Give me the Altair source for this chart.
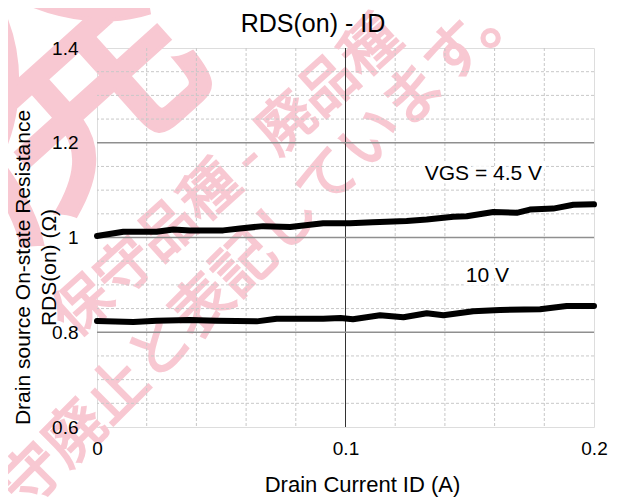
import altair as alt
import pandas as pd

# ---- data ----
x_45 = [0, 0.0106, 0.024, 0.0307, 0.0374, 0.0508, 0.0575, 0.0669, 0.0777, 0.091, 0.1018,
        0.111, 0.1246, 0.1327, 0.1434, 0.1488, 0.1595, 0.1689, 0.1742, 0.1836, 0.1917, 0.2]
y_45 = [1.003, 1.012, 1.012, 1.017, 1.015, 1.015, 1.019, 1.024, 1.022, 1.030, 1.030,
        1.032, 1.035, 1.038, 1.044, 1.045, 1.054, 1.052, 1.059, 1.061, 1.069, 1.070]
x_10 = [0, 0.0146, 0.024, 0.0374, 0.0481, 0.0643, 0.0723, 0.091, 0.098, 0.103,
        0.1139, 0.1233, 0.1327, 0.1394, 0.1514, 0.1622, 0.1783, 0.189, 0.2]
y_10 = [0.824, 0.8216, 0.8244, 0.8259, 0.8244, 0.823, 0.8286, 0.8286, 0.830, 0.8273,
        0.8357, 0.8315, 0.840, 0.8357, 0.8442, 0.847, 0.8484, 0.8554, 0.8554]

label_text = ["VGS = 4.5 V", "10 V"]
label_x = [0.1555, 0.1571]
label_y = [1.134, 0.919]

x_ticks = [0, 0.1, 0.2]
y_ticks = [0.6, 0.8, 1.0, 1.2, 1.4]
x_minor = [0.02, 0.04, 0.06, 0.08, 0.12, 0.14, 0.16, 0.18]
y_minor = [0.65, 0.7, 0.75, 0.85, 0.9, 0.95, 1.05, 1.1, 1.15, 1.25, 1.3, 1.35]
x_major = [0.1]
y_major = [0.8, 1.0, 1.2]

title_text = ["RDS(on) - ID"]
wm_lines = ["保守品種 - 廃品種", "保守廃止と表記しています。", "廃"]

curves = pd.concat([
    pd.DataFrame({"ID": x_45, "RDS": y_45, "VGS": "4.5 V"}),
    pd.DataFrame({"ID": x_10, "RDS": y_10, "VGS": "10 V"}),
])
labels = pd.DataFrame({"ID": label_x, "RDS": label_y, "t": label_text})

FONT = "Liberation Sans"
xscale = alt.Scale(domain=[0, 0.2], nice=False, zero=False)
yscale = alt.Scale(domain=[0.6, 1.4], nice=False, zero=False)

xaxis = alt.Axis(values=x_ticks, format="~g", grid=False, ticks=False, tickSize=0, domain=False,
                 labelFontSize=19, labelFont=FONT, labelColor="black", labelPadding=12,
                 labelFlush=False, labelOverlap=False,
                 title="Drain Current ID (A)", titleFontSize=22, titleFont=FONT,
                 titleFontWeight="normal", titleColor="black", titleX=265, titleY=64,
                 titleBaseline="alphabetic", titleAlign="center", zindex=1)
yaxis = alt.Axis(values=y_ticks, format="~g", grid=False, ticks=False, tickSize=0, domain=False,
                 labelFontSize=19, labelFont=FONT, labelColor="black", labelPadding=19,
                 labelFlush=False, labelOverlap=False,
                 title=["Drain source On-state Resistance", "RDS(on) (Ω)"],
                 titleFontSize=21, titleFont=FONT, titleFontWeight="normal", titleColor="black",
                 titleAngle=270, titleX=-68, titleY=219, titleBaseline="alphabetic",
                 titleAlign="center", titleLineHeight=26, zindex=1)

X = lambda f: alt.X(f, type="quantitative", scale=xscale, axis=xaxis)
Y = lambda f: alt.Y(f, type="quantitative", scale=yscale, axis=yaxis)

one = pd.DataFrame({"k": [0]})

wm_color = "#f8c8d2"
WMF = "Noto Sans CJK JP"
wm1 = alt.Chart(one).mark_text(font=WMF, fontSize=57, angle=318, color=wm_color,
                               stroke=wm_color, strokeWidth=2,
                               align="center", baseline="middle").encode(
    x=alt.value(131), y=alt.value(130), text=alt.value(wm_lines[0]))
wm2 = alt.Chart(one).mark_text(font=WMF, fontSize=60, angle=315, color=wm_color,
                               stroke=wm_color, strokeWidth=2,
                               align="center", baseline="middle").encode(
    x=alt.value(146), y=alt.value(220), text=alt.value(wm_lines[1]))
wm3 = alt.Chart(one).mark_text(font=WMF, fontSize=280, angle=318, color=wm_color,
                               stroke=wm_color, strokeWidth=4,
                               align="center", baseline="middle").encode(
    x=alt.value(-40), y=alt.value(40), text=alt.value(wm_lines[2]))

gx_minor = alt.Chart(pd.DataFrame({"v": x_minor})).mark_rule(
    color="#c8c8c8", strokeWidth=1, strokeDash=[3, 2]).encode(x=X("v"))
gy_minor = alt.Chart(pd.DataFrame({"v": y_minor})).mark_rule(
    color="#c8c8c8", strokeWidth=1, strokeDash=[3, 2]).encode(y=Y("v"))
gx_major = alt.Chart(pd.DataFrame({"v": x_major})).mark_rule(
    color="#333333", strokeWidth=1).encode(x=X("v"))
gy_major = alt.Chart(pd.DataFrame({"v": y_major})).mark_rule(
    color="#8f8f8f", strokeWidth=1.6).encode(y=Y("v"))

lines = alt.Chart(curves).mark_line(color="black", strokeWidth=6, strokeCap="round",
                                    strokeJoin="round").encode(
    x=X("ID"), y=Y("RDS"), detail="VGS:N")

halo = alt.Chart(labels).mark_text(font=FONT, fontSize=21, color="white", stroke="white",
                                   strokeWidth=7, align="center", baseline="middle").encode(
    x=X("ID"), y=Y("RDS"), text="t:N")
txt = alt.Chart(labels).mark_text(font=FONT, fontSize=21, color="black",
                                  align="center", baseline="middle").encode(
    x=X("ID"), y=Y("RDS"), text="t:N")

title = alt.Chart(pd.DataFrame({"t": title_text})).mark_text(
    font=FONT, fontSize=25, fontWeight=400, color="black", align="center",
    baseline="alphabetic").encode(
    x=alt.value(216), y=alt.value(-16), text="t:N")

chart = alt.layer(wm3, wm1, wm2, gx_minor, gy_minor, gx_major, gy_major, lines, halo, txt,
                  title).properties(
    width=497, height=379,
    autosize=alt.AutoSizeParams(type="none"),
    padding={"left": 89, "top": 40, "right": 16, "bottom": 70},
).configure_view(stroke="black", strokeWidth=1).configure(background="white")

chart.save("out.html", embed_options={"renderer": "svg", "actions": False})
